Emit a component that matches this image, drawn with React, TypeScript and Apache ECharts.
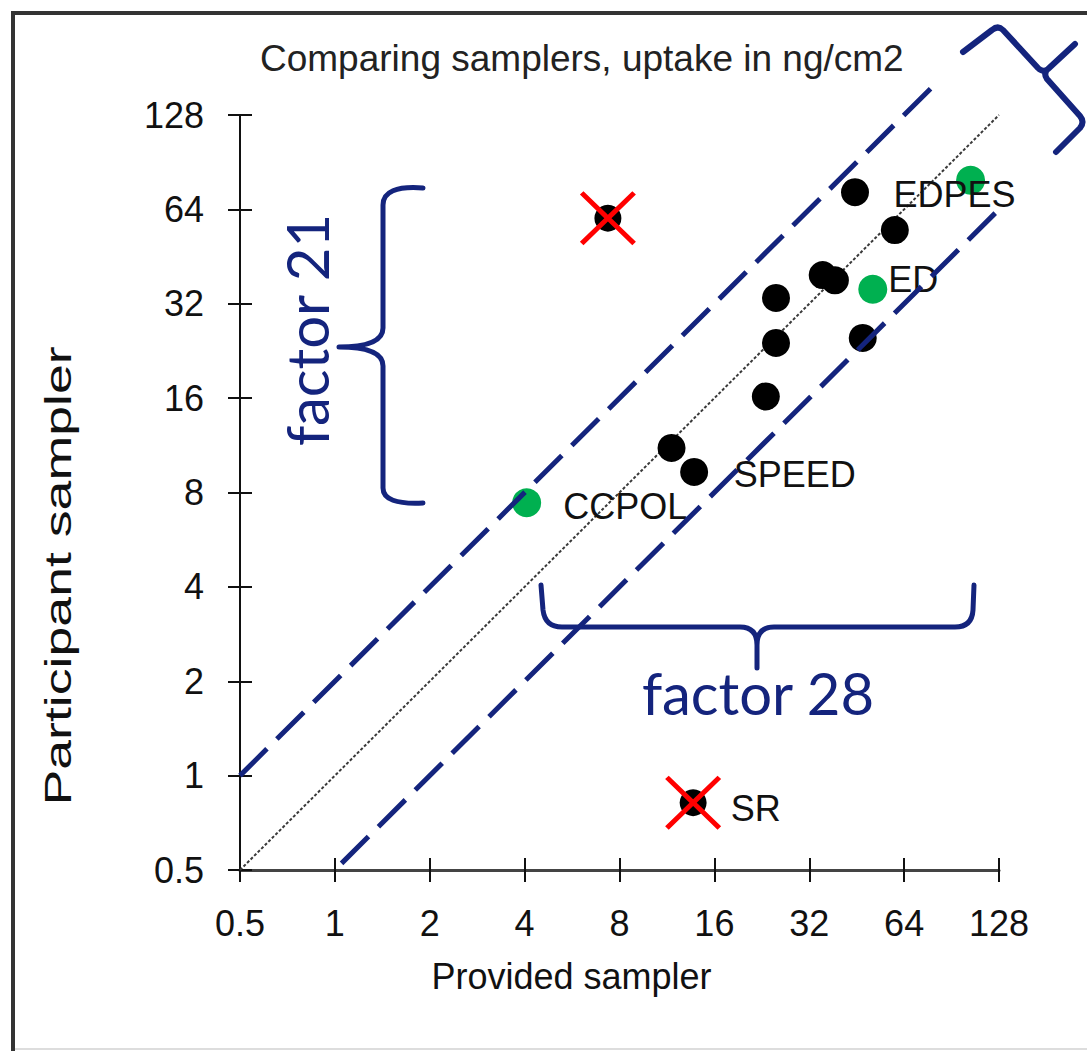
import React, { useEffect, useRef } from "react";
import * as echarts from "echarts";

// ---- data ----
const tickValues = [0.5, 1, 2, 4, 8, 16, 32, 64, 128];
const tickLabels = ["0.5", "1", "2", "4", "8", "16", "32", "64", "128"];

const blackPoints: [number, number][] = [
  [44.7, 72.6],
  [59.8, 55],
  [35.3, 39.5],
  [38.6, 38],
  [25.1, 33.4],
  [25.1, 24],
  [47.3, 24.9],
  [23.3, 16.2],
  [11.7, 11.1],
  [13.8, 9.3],
];
const greenPoints: [number, number][] = [
  [104, 79.3],
  [50.9, 35.6],
  [4.06, 7.42],
];
const rejectedPoints: [number, number][] = [
  [7.35, 60],
  [13.7, 0.82],
];
const labelNames = ["EDPES", "ED", "SPEED", "CCPOL", "SR"];
const labelPoints: [number, number][] = [
  [44.7, 72.6],
  [50.9, 35.6],
  [13.8, 9.3],
  [4.06, 7.42],
  [13.7, 0.82],
];
const oneToOneLine: [number, number][] = [
  [0.5, 0.5],
  [128, 128],
];
const upperBoundLine: [number, number][] = [
  [0.5, 1],
  [80.7, 161.4],
];
const lowerBoundLine: [number, number][] = [
  [1.05, 0.525],
  [190, 95],
];

const titleText = "Comparing samplers, uptake in ng/cm2";
const xAxisName = "Provided sampler";
const yAxisName = "Participant sampler";
const factorYText = "factor 21";
const factorXText = "factor 28";

// ---- styles (kept apart from the data) ----
const NAVY = "#14247d";
const GREEN = "#00b050";
const FONT = "'Liberation Sans', Arial, sans-serif";
const labelPlacement = [
  { distance: 38, dy: 2 },
  { distance: 15, dy: -10 },
  { distance: 39, dy: 3 },
  { distance: 36, dy: 4 },
  { distance: 37, dy: 6 },
];

const braceLeftPath =
  "M423,188 Q383,185 383,205 L383,328 Q383,347 339,347 M383,328 Q383,347 339,347 Q383,347 383,366 L383,488 Q383,505 423,503";
const braceBottomPath =
  "M541,585 L543,610 Q545,627 562,627 L740,627 Q757,627 757,645 L757,668 M757,645 Q757,627 774,627 L955,627 Q972,627 973,610 L974,585";
const braceTopPath =
  "M963,52 L992,30 Q998,25 1003,30 L1038,68 Q1043,73 1048,69 L1075,44 M1048,69 Q1043,73 1047,79 L1080,116 Q1085,122 1080,128 L1056,152";

const crossSymbol =
  "path://M0,6.4L6.4,0L50,43.6L93.6,0L100,6.4L56.4,50L100,93.6L93.6,100L50,56.4L6.4,100L0,93.6L43.6,50Z";

function registerShapes() {
  echarts.graphic.registerShape("braceLeft", echarts.graphic.extendPath(braceLeftPath, {}));
  echarts.graphic.registerShape("braceBottom", echarts.graphic.extendPath(braceBottomPath, {}));
  echarts.graphic.registerShape("braceTop", echarts.graphic.extendPath(braceTopPath, {}));
}

const fmt = (v: number) => {
  const i = tickValues.findIndex((t) => Math.abs(t - v) < 1e-6 * Math.max(1, t));
  return i >= 0 ? tickLabels[i] : "";
};

function buildOption(): any {
  const axisCommon = {
    type: "log",
    logBase: 2,
    min: 0.5,
    max: 128,
    splitNumber: 8,
    splitLine: { show: false },
  };
  const braceStyle = {
    stroke: NAVY,
    lineWidth: 5,
    fill: "none",
    lineCap: "round",
    lineJoin: "round",
  };
  return {
    animation: false,
    backgroundColor: "#ffffff",
    title: {
      text: titleText,
      left: 260,
      top: 40,
      padding: 0,
      textStyle: { fontSize: 37, fontWeight: "normal", color: "#222", fontFamily: FONT },
    },
    grid: { left: 240, top: 115, width: 759, height: 755, containLabel: false },
    xAxis: [
      {
        ...axisCommon,
        position: "bottom",
        name: xAxisName,
        nameLocation: "middle",
        nameGap: 88,
        nameTextStyle: { fontSize: 36, color: "#111", fontFamily: FONT, padding: [0, 96, 0, 0] },
        axisLine: { show: true, lineStyle: { color: "#444", width: 3 } },
        axisTick: { show: true, inside: false, length: 12, lineStyle: { color: "#111", width: 2 } },
        axisLabel: { show: true, margin: 35, fontSize: 36, color: "#111", fontFamily: FONT, formatter: fmt },
      },
      {
        ...axisCommon,
        position: "bottom",
        axisLine: { show: false },
        axisTick: { show: true, inside: true, length: 12, lineStyle: { color: "#111", width: 2 } },
        axisLabel: { show: false },
      },
    ],
    yAxis: [
      {
        ...axisCommon,
        position: "left",
        axisLine: { show: true, lineStyle: { color: "#111", width: 2 } },
        axisTick: { show: true, inside: false, length: 12, lineStyle: { color: "#111", width: 2 } },
        axisLabel: { show: true, margin: 36, fontSize: 36, color: "#111", fontFamily: FONT, formatter: fmt },
      },
      {
        ...axisCommon,
        position: "left",
        axisLine: { show: false },
        axisTick: { show: true, inside: true, length: 12, lineStyle: { color: "#111", width: 2 } },
        axisLabel: { show: false },
      },
    ],
    series: [
      {
        type: "line",
        data: oneToOneLine,
        symbol: "none",
        clip: false,
        z: 1,
        lineStyle: { color: "#3a3a3a", width: 2, type: [3, 2], opacity: 1 },
      },
      {
        type: "scatter",
        data: blackPoints,
        symbol: "circle",
        symbolSize: 28,
        z: 3,
        itemStyle: { color: "#000", opacity: 1 },
      },
      {
        type: "scatter",
        data: rejectedPoints,
        symbol: "circle",
        symbolSize: 27,
        z: 3,
        itemStyle: { color: "#000", opacity: 1 },
      },
      {
        type: "scatter",
        data: greenPoints,
        symbol: "circle",
        symbolSize: 29,
        z: 3,
        itemStyle: { color: GREEN, opacity: 1 },
      },
      {
        type: "scatter",
        data: labelPoints.map((p, i) => ({
          value: p,
          name: labelNames[i],
          label: {
            show: true,
            position: "right",
            distance: labelPlacement[i].distance,
            offset: [0, labelPlacement[i].dy],
            formatter: labelNames[i],
          },
        })),
        symbolSize: 1,
        z: 4,
        itemStyle: { color: "transparent", opacity: 1 },
        label: { fontSize: 36, color: "#111", opacity: 1, fontFamily: FONT },
      },
      {
        type: "line",
        data: upperBoundLine,
        symbol: "none",
        clip: false,
        z: 6,
        lineStyle: { color: NAVY, width: 5, type: [38, 14], opacity: 1 },
      },
      {
        type: "line",
        data: lowerBoundLine,
        symbol: "none",
        clip: false,
        z: 6,
        lineStyle: { color: NAVY, width: 5, type: [38, 14], opacity: 1 },
      },
      {
        type: "scatter",
        data: rejectedPoints,
        symbol: crossSymbol,
        symbolSize: [56, 54],
        z: 7,
        itemStyle: { color: "#ff0000", opacity: 1 },
      },
    ],
    graphic: [
      { type: "line", shape: { x1: 11, y1: 13, x2: 1087, y2: 13 }, style: { stroke: "#333", lineWidth: 4 } },
      { type: "line", shape: { x1: 13, y1: 11, x2: 13, y2: 1051 }, style: { stroke: "#333", lineWidth: 4 } },
      { type: "line", shape: { x1: 15, y1: 1049, x2: 1087, y2: 1049 }, style: { stroke: "#dddddd", lineWidth: 2 } },
      { type: "braceLeft", x: 0, y: 0, z: 100, style: braceStyle },
      { type: "braceBottom", x: 0, y: 0, z: 100, style: braceStyle },
      { type: "braceTop", x: 0, y: 0, z: 100, style: { ...braceStyle, lineWidth: 6 } },
      {
        type: "text",
        x: 306,
        y: 330,
        rotation: Math.PI / 2,
        z: 100,
        style: {
          text: factorYText,
          fontSize: 58,
          fontFamily: "Lato, 'Open Sans', sans-serif",
          fill: NAVY,
          align: "center",
          verticalAlign: "middle",
          textAlign: "center",
          textVerticalAlign: "middle",
        },
      },
      {
        type: "text",
        x: 758,
        y: 692,
        z: 100,
        style: {
          text: factorXText,
          fontSize: 58,
          fontFamily: "Lato, 'Open Sans', sans-serif",
          fill: NAVY,
          align: "center",
          verticalAlign: "middle",
          textAlign: "center",
          textVerticalAlign: "middle",
        },
      },
      {
        type: "text",
        x: 58,
        y: 576,
        rotation: Math.PI / 2,
        scaleX: 1.45,
        z: 100,
        style: {
          text: yAxisName,
          fontSize: 37,
          fontFamily: FONT,
          fill: "#111",
          align: "center",
          verticalAlign: "middle",
          textAlign: "center",
          textVerticalAlign: "middle",
        },
      },
    ],
  };
}

export default function App() {
  const ref = useRef<HTMLDivElement>(null);
  useEffect(() => {
    document.body.style.margin = "0";
    if (!ref.current) return;
    registerShapes();
    const chart = echarts.init(ref.current, null, { renderer: "svg" });
    chart.setOption(buildOption());
    return () => {
      chart.dispose();
    };
  }, []);
  return <div ref={ref} style={{ width: 1087, height: 1051, background: "#fff" }} />;
}
